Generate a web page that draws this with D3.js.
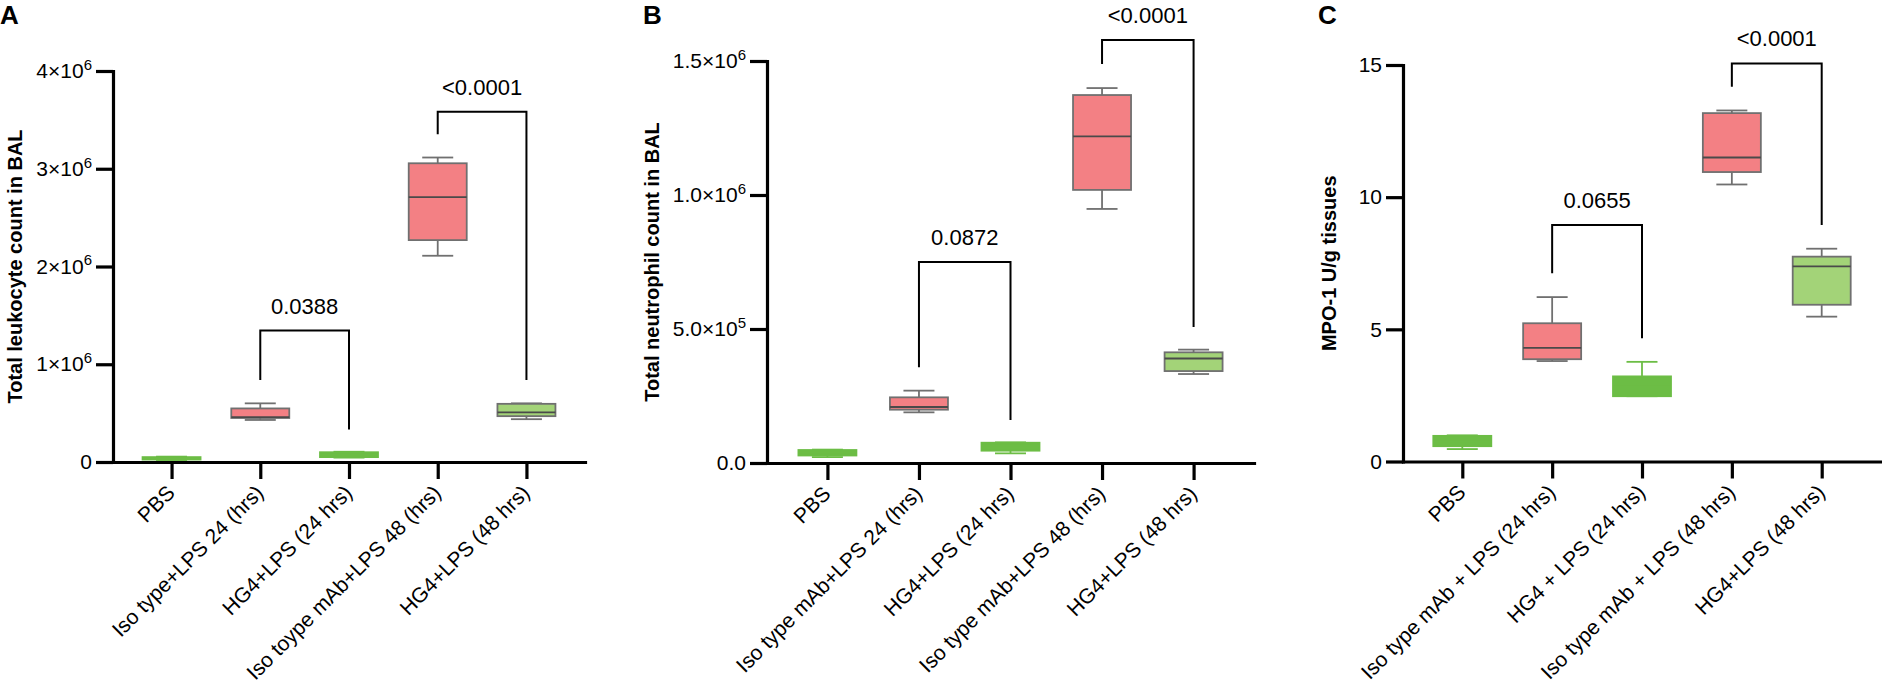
<!DOCTYPE html>
<html>
<head>
<meta charset="utf-8">
<script src="https://cdn.jsdelivr.net/npm/d3@7"></script>
<style>
  body { margin: 0; background: #fff; }
  svg { display: block; font-family: Arial, "Liberation Sans", Helvetica, sans-serif; }
</style>
</head>
<body>
<svg id="chart" width="1882" height="689"></svg>
<script>
// groups (same order in every panel, labels differ slightly)
var groupsA = ["PBS", "Iso type+LPS 24 (hrs)", "HG4+LPS (24 hrs)", "Iso toype mAb+LPS 48 (hrs)", "HG4+LPS (48 hrs)"];
var groupsB = ["PBS", "Iso type mAb+LPS 24 (hrs)", "HG4+LPS (24 hrs)", "Iso type mAb+LPS 48 (hrs)", "HG4+LPS (48 hrs)"];
var groupsC = ["PBS", "Iso type mAb + LPS (24 hrs)", "HG4 + LPS (24 hrs)", "Iso type mAb + LPS (48 hrs)", "HG4+LPS (48 hrs)"];

// box stats: [min, q1, median, q3, max]
var statsA = [
  [20000, 25000, 35000, 50000, 55000],
  [430000, 450000, 460000, 548000, 600000],
  [45000, 50000, 75000, 100000, 105000],
  [2110000, 2270000, 2710000, 3056000, 3115000],
  [438000, 469000, 507000, 595000, 600000]
];
var statsB = [
  [22000, 28000, 40000, 48500, 50000],
  [189000, 199000, 209000, 245000, 270000],
  [36000, 46000, 65000, 75700, 77000],
  [948000, 1019000, 1219000, 1373000, 1399000],
  [332000, 343000, 390000, 413000, 423000]
];
var statsC = [
  [0.47, 0.58, 0.75, 0.97, 0.99],
  [3.8, 3.87, 4.3, 5.23, 6.22],
  [2.47, 2.47, 2.9, 3.22, 3.77],
  [10.48, 10.95, 11.5, 13.18, 13.28],
  [5.48, 5.93, 7.38, 7.75, 8.05]
];

// significance brackets: [from group, to group, top, left leg end, right leg end, label]
var bracketsA = [
  [1, 2, 1345000, 839000, 333000, "0.0388"],
  [3, 4, 3583000, 3354000, 839000, "<0.0001"]
];
var bracketsB = [
  [1, 2, 750000, 357000, 160000, "0.0872"],
  [3, 4, 1578000, 1489000, 507000, "<0.0001"]
];
var bracketsC = [
  [1, 2, 8.95, 7.12, 4.66, "0.0655"],
  [3, 4, 15.06, 14.18, 8.95, "<0.0001"]
];

// y ticks and their labels [mantissa, exponent]
var yTicksA = [0, 1e6, 2e6, 3e6, 4e6];
var yTickLabelsA = [["0", ""], ["1×10", "6"], ["2×10", "6"], ["3×10", "6"], ["4×10", "6"]];
var yTicksB = [0, 5e5, 1e6, 1.5e6];
var yTickLabelsB = [["0.0", ""], ["5.0×10", "5"], ["1.0×10", "6"], ["1.5×10", "6"]];
var yTicksC = [0, 5, 10, 15];
var yTickLabelsC = [["0", ""], ["5", ""], ["10", ""], ["15", ""]];

var titles = ["Total leukocyte count in BAL", "Total neutrophil count in BAL", "MPO-1 U/g tissues"];
var letters = ["A", "B", "C"];

// fill / stroke per group
var boxFill = ["#6cbd45", "#f38084", "#6cbd45", "#f38084", "#a3d378"];
var boxStroke = ["#6cbd45", "#707070", "#6cbd45", "#707070", "#707070"];

var svg = d3.select("#chart");

function drawPanel(p) {
  var g = svg.append("g");

  var x = d3.scalePoint()
    .domain(d3.range(p.groups.length))
    .range([p.left, p.right])
    .padding(0.66);

  var y = d3.scaleLinear()
    .domain([0, p.yMax])
    .range([p.bottom, p.top]);

  // y axis
  var yAxis = g.append("g")
    .attr("transform", "translate(" + p.left + ",0)")
    .call(d3.axisLeft(y).tickValues(p.yTicks).tickSize(17).tickSizeOuter(0).tickPadding(4));
  yAxis.selectAll(".tick text").each(function(d, i) {
    var t = d3.select(this).text(null)
      .attr("font-size", 21).attr("fill", "#000").attr("font-family", null);
    t.append("tspan").text(p.yLabels[i][0]);
    if (p.yLabels[i][1]) {
      t.append("tspan").attr("dy", "-0.55em").attr("font-size", 15).text(p.yLabels[i][1]);
    }
  });

  // x axis
  var xAxis = g.append("g")
    .attr("transform", "translate(0," + p.bottom + ")")
    .call(d3.axisBottom(x).tickSize(17).tickSizeOuter(0));
  xAxis.selectAll(".tick text")
    .text(function(d) { return p.groups[d]; })
    .attr("font-size", 21).attr("fill", "#000").attr("font-family", null)
    .attr("text-anchor", "end")
    .attr("y", null).attr("dy", null)
    .attr("transform", "translate(4,32) rotate(-45)");

  g.selectAll(".domain, .tick line")
    .attr("stroke", "#000").attr("stroke-width", 3.2);
  g.selectAll(".domain").attr("stroke-linecap", "square");

  // boxes
  var bw = 58, cw = 31;
  var boxes = g.selectAll("g.box")
    .data(p.stats)
    .enter().append("g")
    .attr("class", "box");

  boxes.append("line")
    .attr("x1", function(d, i) { return x(i); })
    .attr("x2", function(d, i) { return x(i); })
    .attr("y1", function(d) { return y(d[4]); })
    .attr("y2", function(d) { return y(d[0]); })
    .attr("stroke", function(d, i) { return boxStroke[i]; })
    .attr("stroke-width", 1.8);
  boxes.append("line")
    .attr("x1", function(d, i) { return x(i) - cw / 2; })
    .attr("x2", function(d, i) { return x(i) + cw / 2; })
    .attr("y1", function(d) { return y(d[4]); })
    .attr("y2", function(d) { return y(d[4]); })
    .attr("stroke", function(d, i) { return boxStroke[i]; })
    .attr("stroke-width", 1.8);
  boxes.append("line")
    .attr("x1", function(d, i) { return x(i) - cw / 2; })
    .attr("x2", function(d, i) { return x(i) + cw / 2; })
    .attr("y1", function(d) { return y(d[0]); })
    .attr("y2", function(d) { return y(d[0]); })
    .attr("stroke", function(d, i) { return boxStroke[i]; })
    .attr("stroke-width", 1.8);
  boxes.append("rect")
    .attr("x", function(d, i) { return x(i) - bw / 2; })
    .attr("width", bw)
    .attr("y", function(d) { return y(d[3]); })
    .attr("height", function(d) { return Math.max(1, y(d[1]) - y(d[3])); })
    .attr("fill", function(d, i) { return boxFill[i]; })
    .attr("stroke", function(d, i) { return boxStroke[i]; })
    .attr("stroke-width", 1.8);
  boxes.append("line")
    .attr("x1", function(d, i) { return x(i) - bw / 2; })
    .attr("x2", function(d, i) { return x(i) + bw / 2; })
    .attr("y1", function(d) { return y(d[2]); })
    .attr("y2", function(d) { return y(d[2]); })
    .attr("stroke", function(d, i) { return boxStroke[i] == "#6cbd45" ? "#6cbd45" : "#4a4a4a"; })
    .attr("stroke-width", 1.8);

  // p value brackets
  var br = g.selectAll("g.bracket")
    .data(p.brackets)
    .enter().append("g")
    .attr("class", "bracket");
  br.append("path")
    .attr("d", function(d) {
      return "M" + x(d[0]) + "," + y(d[3])
        + "L" + x(d[0]) + "," + y(d[2])
        + "L" + x(d[1]) + "," + y(d[2])
        + "L" + x(d[1]) + "," + y(d[4]);
    })
    .attr("fill", "none")
    .attr("stroke", "#000")
    .attr("stroke-width", 2);
  br.append("text")
    .attr("x", function(d) { return (x(d[0]) + x(d[1])) / 2; })
    .attr("y", function(d) { return y(d[2]) - 17; })
    .attr("text-anchor", "middle")
    .attr("font-size", 22)
    .text(function(d) { return d[5]; });

  // axis title
  g.append("text")
    .attr("transform", "translate(" + p.titleX + "," + ((p.top + p.bottom) / 2) + ") rotate(-90)")
    .attr("text-anchor", "middle")
    .attr("font-size", 20)
    .attr("font-weight", "bold")
    .text(p.title);

  // panel letter
  g.append("text")
    .attr("x", p.letterX)
    .attr("y", 24)
    .attr("font-size", 26)
    .attr("font-weight", "bold")
    .text(p.letter);
}

drawPanel({ groups: groupsA, stats: statsA, brackets: bracketsA, yTicks: yTicksA, yLabels: yTickLabelsA,
  yMax: 4e6, left: 113, right: 585, top: 71, bottom: 462, title: titles[0], titleX: 22, letter: letters[0], letterX: 0 });
drawPanel({ groups: groupsB, stats: statsB, brackets: bracketsB, yTicks: yTicksB, yLabels: yTickLabelsB,
  yMax: 1.5e6, left: 767, right: 1254, top: 61, bottom: 463, title: titles[1], titleX: 659, letter: letters[1], letterX: 643 });
drawPanel({ groups: groupsC, stats: statsC, brackets: bracketsC, yTicks: yTicksC, yLabels: yTickLabelsC,
  yMax: 15, left: 1403, right: 1881, top: 65, bottom: 461.5, title: titles[2], titleX: 1336, letter: letters[2], letterX: 1318 });
</script>
</body>
</html>
